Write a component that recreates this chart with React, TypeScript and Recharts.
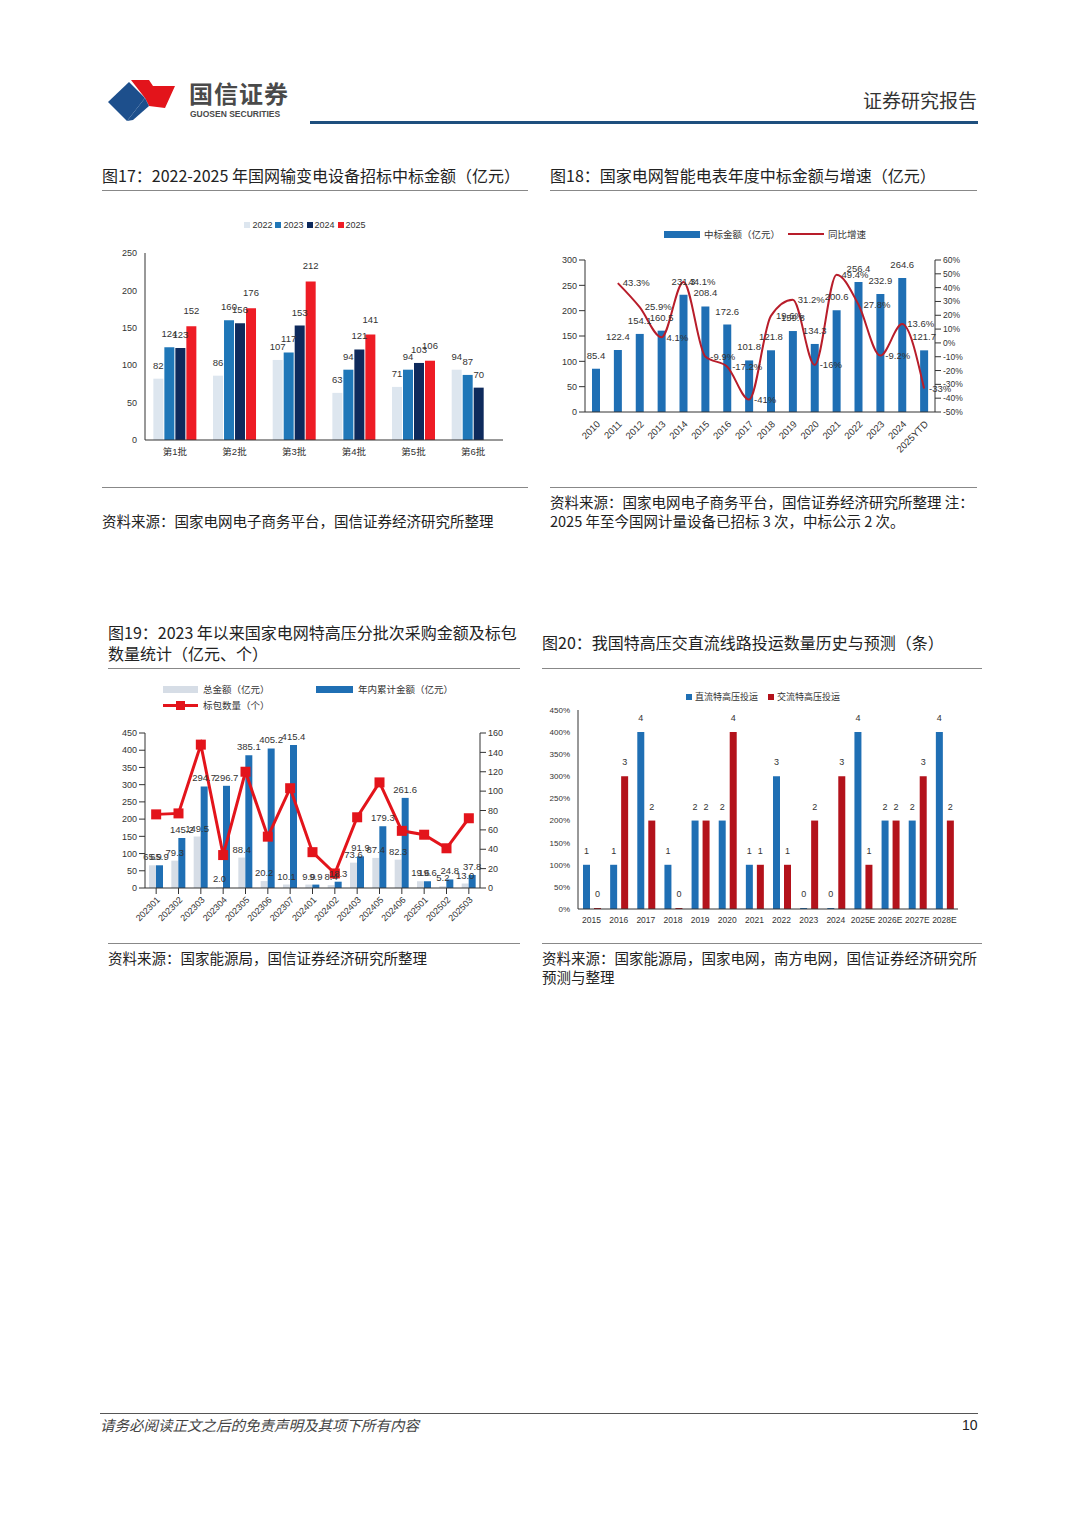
import React from 'react';
import { BarChart, Bar, ComposedChart, Line, XAxis, YAxis, Legend, LabelList } from 'recharts';

// 图17 国网输变电设备招标
const batches = ['第1批', '第2批', '第3批', '第4批', '第5批', '第6批'];
const y2022 = [82, 86, 107, 63, 71, 94];
const y2023 = [124, 160, 117, 94, 94, 87];
const y2024 = [123, 156, 153, 121, 103, 70];
const y2025 = [152, 176, 212, 141, 106, null];

// 图18 智能电表
const meterYears = ['2010', '2011', '2012', '2013', '2014', '2015', '2016', '2017', '2018', '2019', '2020', '2021', '2022', '2023', '2024', '2025YTD'];
const meterAmount = [85.4, 122.4, 154.1, 160.5, 231.3, 208.4, 172.6, 101.8, 121.8, 159.8, 134.3, 200.6, 256.4, 232.9, 264.6, 121.7];
const meterGrowth = [null, 43.3, 25.9, 4.1, 44.1, -9.9, -17.2, -41.0, 19.6, 31.2, -16.0, 49.4, 27.8, -9.2, 13.6, -33];

// 图19 特高压分批次采购
const uhvBatches = ['202301', '202302', '202303', '202304', '202305', '202306', '202307', '202401', '202402', '202403', '202405', '202406', '202501', '202502', '202503'];
const uhvTotal = [65.9, 79.3, 149.5, 2.0, 88.4, 20.2, 10.1, 9.9, 8.4, 73.6, 87.4, 82.3, 19.6, 5.2, 13.0];
const uhvCumulative = [65.9, 145.2, 294.7, 296.7, 385.1, 405.2, 415.4, 9.9, 18.3, 91.9, 179.3, 261.6, 19.6, 24.8, 37.8];
const uhvPackages = [76, 77, 148, 34, 120, 53, 103, 37, 15, 73, 109, 59, 55, 41, 72];

// 图20 特高压投运
const lineYears = ['2015', '2016', '2017', '2018', '2019', '2020', '2021', '2022', '2023', '2024', '2025E', '2026E', '2027E', '2028E'];
const dcLines = [1, 1, 4, 1, 2, 2, 1, 3, 0, 0, 4, 2, 2, 4];
const acLines = [0, 3, 2, 0, 2, 4, 1, 1, 2, 3, 1, 2, 3, 2];

const data17 = batches.map((b, i) => ({ name: b, a: y2022[i], b: y2023[i], c: y2024[i], d: y2025[i] }));
const data18 = meterYears.map((y, i) => ({ name: y, amount: meterAmount[i], growth: meterGrowth[i] }));
const data19 = uhvBatches.map((y, i) => ({ name: y, total: uhvTotal[i], cum: uhvCumulative[i], pkg: uhvPackages[i] }));
const data20 = lineYears.map((y, i) => ({ name: y, dc: dcLines[i], ac: acLines[i] }));

const FONT = "'Liberation Sans', 'Noto Sans CJK SC', sans-serif";
const CJK = "'Noto Sans CJK SC', sans-serif";

const Txt = ({ x, y, size = 14, children, style }: any) => (
  <div style={{ position: 'absolute', left: x, top: y, fontSize: size, fontFamily: CJK, color: '#222', whiteSpace: 'nowrap', lineHeight: 1.2, ...style }}>{children}</div>
);
const HLine = ({ x, y, w, h = 1, c = '#888' }: any) => (
  <div style={{ position: 'absolute', left: x, top: y, width: w, height: h, background: c }} />
);

const tick = { fontSize: 10, fill: '#333', fontFamily: FONT };
const small = { fontSize: 9, fill: '#333', fontFamily: FONT };
const lbl = { fontSize: 9.5, fill: '#333', fontFamily: FONT };

const SquareDot = (props: any) => {
  const { cx, cy, index } = props;
  if (cx == null || cy == null) return <g key={index} />;
  return <rect key={index} x={cx - 5} y={cy - 5} width={10} height={10} fill="#e3141b" />;
};

const Legend17 = () => (
  <div style={{ display: 'flex', justifyContent: 'center', alignItems: 'center', fontSize: 9, fontFamily: FONT, color: '#333' }}>
    {[['2022', '#dde6ef'], ['2023', '#1f77b8'], ['2024', '#0e2a5c'], ['2025', '#ee1c25']].map(([n, c]) => (
      <span key={n} style={{ display: 'flex', alignItems: 'center', marginRight: 3 }}>
        <span style={{ display: 'inline-block', width: 6, height: 6, background: c, marginRight: 2 }} />{n}
      </span>
    ))}
  </div>
);

const Legend18 = () => (
  <div style={{ display: 'flex', justifyContent: 'center', alignItems: 'center', fontSize: 9.5, fontFamily: CJK, color: '#333' }}>
    <span style={{ display: 'inline-block', width: 36, height: 7, background: '#1f6fb4', marginRight: 4 }} />
    <span style={{ marginRight: 8 }}>中标金额（亿元）</span>
    <span style={{ display: 'inline-block', width: 36, height: 2, background: '#b81d2a', marginRight: 4 }} />
    <span>同比增速</span>
  </div>
);

const Legend19 = () => (
  <div style={{ fontSize: 9.5, fontFamily: CJK, color: '#333', position: 'relative', height: 34 }}>
    <div style={{ position: 'absolute', left: 58, top: 0, display: 'flex', alignItems: 'center' }}>
      <span style={{ display: 'inline-block', width: 35, height: 7, background: '#d6dde6', marginRight: 5 }} />总金额（亿元）
    </div>
    <div style={{ position: 'absolute', left: 211, top: 0, display: 'flex', alignItems: 'center' }}>
      <span style={{ display: 'inline-block', width: 37, height: 7, background: '#1f6fb4', marginRight: 5 }} />年内累计金额（亿元）
    </div>
    <div style={{ position: 'absolute', left: 58, top: 16, display: 'flex', alignItems: 'center' }}>
      <span style={{ position: 'relative', display: 'inline-block', width: 35, height: 10, marginRight: 5 }}>
        <span style={{ position: 'absolute', left: 0, top: 4, width: 35, height: 3, background: '#e3141b' }} />
        <span style={{ position: 'absolute', left: 13, top: 1, width: 9, height: 9, background: '#e3141b' }} />
      </span>标包数量（个）
    </div>
  </div>
);

const Legend20 = () => (
  <div style={{ display: 'flex', justifyContent: 'center', alignItems: 'center', fontSize: 9, fontFamily: CJK, color: '#333', paddingLeft: 20 }}>
    <span style={{ display: 'inline-block', width: 6, height: 6, background: '#1f6fb4', marginRight: 3 }} />
    <span style={{ marginRight: 10 }}>直流特高压投运</span>
    <span style={{ display: 'inline-block', width: 6, height: 6, background: '#b3121b', marginRight: 3 }} />
    <span>交流特高压投运</span>
  </div>
);

const fmt1 = (v: any) => (v == null ? '' : Number(v).toFixed(1));
const fmtPct = (v: any) => (v == null ? '' : (Number.isInteger(v) ? String(v) : Number(v).toFixed(1)) + '%');

export default function App() {
  return (
    <div style={{ position: 'absolute', left: 0, top: 0, width: 1080, height: 1527, background: '#fff', fontFamily: CJK }}>
      {/* header */}
      <svg style={{ position: 'absolute', left: 105, top: 76 }} width={80} height={50}>
        <polygon points="3,26 24,6 40,22 22,45" fill="#1d4f8c" />
        <polygon points="26,4 44,4 48,10 70,10 60,32 44,30 40,22" fill="#e3141b" />
        <polygon points="40,22 44,30 28,44 22,45" fill="#1d4f8c" />
      </svg>
      <Txt x={189} y={79} size={24} style={{ fontWeight: 700, color: '#4a4a4a', letterSpacing: 1 }}>国信证券</Txt>
      <Txt x={190} y={109} size={8.5} style={{ fontFamily: FONT, fontWeight: 700, color: '#4a4a4a' }}>GUOSEN SECURITIES</Txt>
      <Txt x={863} y={89} size={19} style={{ color: '#333' }}>证券研究报告</Txt>
      <HLine x={310} y={121} w={668} h={3} c="#1e4f7e" />

      {/* 图17 */}
      <Txt x={102} y={166} size={16}>图17：2022-2025 年国网输变电设备招标中标金额（亿元）</Txt>
      <HLine x={102} y={190} w={426} />
      <div style={{ position: 'absolute', left: 100, top: 215 }}>
        <BarChart width={420} height={250} data={data17} margin={{ top: 28, right: 17, bottom: 0, left: 10 }} barCategoryGap="14%" barGap={1}>
          <XAxis dataKey="name" height={25} tick={{ ...tick, fontSize: 9.5 }} tickLine={false} axisLine={{ stroke: '#333' }} />
          <YAxis width={35} domain={[0, 250]} ticks={[0, 50, 100, 150, 200, 250]} interval={0} tick={small} tickLine={false} axisLine={{ stroke: '#333' }} />
          <Legend verticalAlign="top" wrapperStyle={{ top: 5 }} content={() => <Legend17 />} />
          <Bar dataKey="a" name="2022" fill="#dde6ef" isAnimationActive={false}>
            <LabelList dataKey="a" position="top" offset={10} style={lbl} />
          </Bar>
          <Bar dataKey="b" name="2023" fill="#1f77b8" isAnimationActive={false}>
            <LabelList dataKey="b" position="top" offset={10} style={lbl} />
          </Bar>
          <Bar dataKey="c" name="2024" fill="#0e2a5c" isAnimationActive={false}>
            <LabelList dataKey="c" position="top" offset={10} style={lbl} />
          </Bar>
          <Bar dataKey="d" name="2025" fill="#ee1c25" isAnimationActive={false}>
            <LabelList dataKey="d" position="top" offset={12} style={lbl} />
          </Bar>
        </BarChart>
      </div>
      <HLine x={102} y={487} w={426} />
      <Txt x={102} y={512} size={14.5}>资料来源：国家电网电子商务平台，国信证券经济研究所整理</Txt>

      {/* 图18 */}
      <Txt x={550} y={166} size={16}>图18：国家电网智能电表年度中标金额与增速（亿元）</Txt>
      <HLine x={550} y={190} w={427} />
      <div style={{ position: 'absolute', left: 545, top: 222 }}>
        <ComposedChart width={440} height={245} data={data18} margin={{ top: 24, right: 10, bottom: 0, left: 10 }}>
          <XAxis dataKey="name" height={55} interval={0} angle={-45} textAnchor="end" tick={{ ...small, fontSize: 9.5 }} tickLine={false} axisLine={{ stroke: '#333' }} />
          <YAxis yAxisId="l" width={30} domain={[0, 300]} ticks={[0, 50, 100, 150, 200, 250, 300]} interval={0} tick={small} tickLine={{ stroke: '#333' }} axisLine={{ stroke: '#333' }} />
          <YAxis yAxisId="r" orientation="right" width={40} domain={[-50, 60]} ticks={[-50, -40, -30, -20, -10, 0, 10, 20, 30, 40, 50, 60]} interval={0}
            tickFormatter={(v: number) => v + '%'} tick={{ ...small, fontSize: 8.5 }} tickLine={{ stroke: '#333' }} axisLine={{ stroke: '#333' }} />
          <Legend verticalAlign="top" wrapperStyle={{ top: 5 }} content={() => <Legend18 />} />
          <Bar yAxisId="l" dataKey="amount" fill="#1f6fb4" barSize={8} isAnimationActive={false}>
            <LabelList dataKey="amount" position="top" offset={10} formatter={fmt1} style={lbl} />
          </Bar>
          <Line yAxisId="r" type="monotone" dataKey="growth" stroke="#b81d2a" strokeWidth={2} dot={false} connectNulls isAnimationActive={false}>
            <LabelList dataKey="growth" position="right" formatter={fmtPct} style={lbl} />
          </Line>
        </ComposedChart>
      </div>
      <HLine x={550} y={487} w={427} />
      <Txt x={550} y={493} size={14.5}>资料来源：国家电网电子商务平台，国信证券经济研究所整理 注：</Txt>
      <Txt x={550} y={512} size={14.5}>2025 年至今国网计量设备已招标 3 次，中标公示 2 次。</Txt>

      {/* 图19 */}
      <Txt x={108} y={623} size={16}>图19：2023 年以来国家电网特高压分批次采购金额及标包</Txt>
      <Txt x={108} y={644} size={16}>数量统计（亿元、个）</Txt>
      <HLine x={108} y={668} w={412} />
      <div style={{ position: 'absolute', left: 105, top: 682 }}>
        <ComposedChart width={420} height={245} data={data19} margin={{ top: 17, right: 10, bottom: 0, left: 10 }} barGap={0} barCategoryGap="30%">
          <XAxis dataKey="name" height={39} interval={0} angle={-45} textAnchor="end" tick={{ ...small, fontSize: 9 }} tickLine={{ stroke: '#333' }} axisLine={{ stroke: '#333' }} />
          <YAxis yAxisId="l" width={30} domain={[0, 450]} ticks={[0, 50, 100, 150, 200, 250, 300, 350, 400, 450]} interval={0} tick={small} tickLine={{ stroke: '#333' }} axisLine={{ stroke: '#333' }} />
          <YAxis yAxisId="r" orientation="right" width={35} domain={[0, 160]} ticks={[0, 20, 40, 60, 80, 100, 120, 140, 160]} interval={0} tick={small} tickLine={{ stroke: '#333' }} axisLine={{ stroke: '#333' }} />
          <Legend verticalAlign="top" wrapperStyle={{ top: 0, left: 0, width: 420 }} content={() => <Legend19 />} />
          <Bar yAxisId="l" dataKey="total" fill="#d6dde6" barSize={7} isAnimationActive={false}>
            <LabelList dataKey="total" position="top" formatter={fmt1} style={lbl} />
          </Bar>
          <Bar yAxisId="l" dataKey="cum" fill="#1f6fb4" barSize={7} isAnimationActive={false}>
            <LabelList dataKey="cum" position="top" formatter={fmt1} style={lbl} />
          </Bar>
          <Line yAxisId="r" type="linear" dataKey="pkg" stroke="#e3141b" strokeWidth={3} dot={SquareDot} isAnimationActive={false} />
        </ComposedChart>
      </div>
      <HLine x={108} y={943} w={412} />
      <Txt x={108} y={949} size={14.5}>资料来源：国家能源局，国信证券经济研究所整理</Txt>

      {/* 图20 */}
      <Txt x={542} y={633} size={16}>图20：我国特高压交直流线路投运数量历史与预测（条）</Txt>
      <HLine x={542} y={668} w={440} />
      <div style={{ position: 'absolute', left: 540, top: 688 }}>
        <BarChart width={445} height={240} data={data20} margin={{ top: 9, right: 27, bottom: 0, left: 8 }} barGap={4}>
          <XAxis dataKey="name" height={19} interval={0} tick={{ ...small, fontSize: 8.5 }} tickLine={false} axisLine={{ stroke: '#333' }} />
          <YAxis width={30} domain={[0, 4.5]} ticks={[0, 0.5, 1, 1.5, 2, 2.5, 3, 3.5, 4, 4.5]} interval={0} tickFormatter={(v: number) => Math.round(v * 100) + '%'}
            tick={{ ...small, fontSize: 8 }} tickLine={false} axisLine={{ stroke: '#333' }} />
          <Legend verticalAlign="top" wrapperStyle={{ top: 2 }} content={() => <Legend20 />} />
          <Bar dataKey="dc" name="直流特高压投运" fill="#1f6fb4" barSize={7} minPointSize={1} isAnimationActive={false}>
            <LabelList dataKey="dc" position="top" offset={11} style={small} />
          </Bar>
          <Bar dataKey="ac" name="交流特高压投运" fill="#b3121b" barSize={7} minPointSize={1} isAnimationActive={false}>
            <LabelList dataKey="ac" position="top" offset={11} style={small} />
          </Bar>
        </BarChart>
      </div>
      <HLine x={542} y={943} w={440} />
      <Txt x={542} y={949} size={14.5}>资料来源：国家能源局，国家电网，南方电网，国信证券经济研究所</Txt>
      <Txt x={542} y={968} size={14.5}>预测与整理</Txt>

      {/* footer */}
      <HLine x={100} y={1413} w={878} c="#555" />
      <Txt x={100} y={1416} size={14.5} style={{ fontStyle: 'italic', color: '#444' }}>请务必阅读正文之后的免责声明及其项下所有内容</Txt>
      <Txt x={962} y={1417} size={14} style={{ fontFamily: FONT, color: '#222' }}>10</Txt>
    </div>
  );
}
